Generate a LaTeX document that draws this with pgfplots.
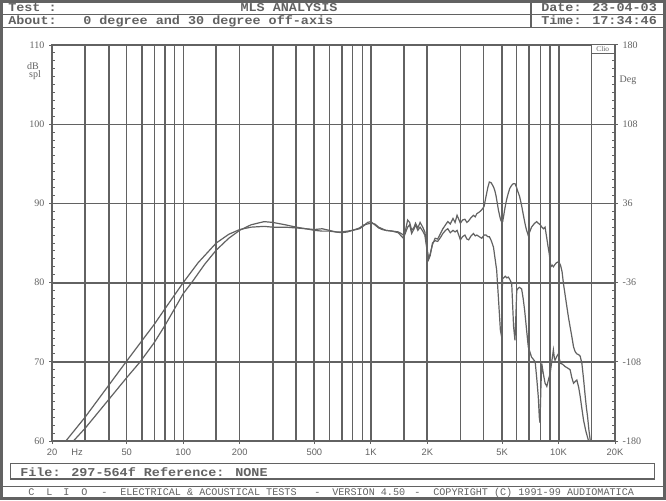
\documentclass[border=0pt]{standalone}
\usepackage{fontspec}
\setmainfont{Liberation Sans}
\newfontfamily\mono{Liberation Mono}
\newfontfamily\monob[FakeStretch=1.12]{Liberation Mono}
\newfontfamily\serf{Liberation Serif}
\usepackage{pgfplots}
\pgfplotsset{compat=1.18}
\definecolor{gc}{RGB}{98,98,98}

\pgfplotstableread{
f db
20 57.6
23.7 60
30 63.0
40 67.0
50 70.1
60 72.6
70 74.7
80 76.7
100 80.0
120 82.5
150 85.0
175 86.1
200 86.7
230 87.0
270 87.1
300 87.0
350 87.0
400 86.9
450 86.8
500 86.7
550 86.8
600 86.6
650 86.4
700 86.3
750 86.4
800 86.6
870 86.8
920 87.2
960 87.6
1000 87.7
1050 87.3
1100 86.9
1150 86.7
1200 86.6
1300 86.5
1400 86.4
1450 86.2
1490 86.0
1530 86.6
1570 87.9
1610 87.6
1650 86.6
1700 87.0
1730 87.5
1780 86.9
1830 87.6
1890 87.0
1940 86.4
1990 84.5
2030 83.0
2070 83.6
2130 84.8
2200 85.6
2270 85.5
2350 86.2
2420 86.8
2500 87.3
2570 87.7
2650 87.4
2740 88.1
2810 87.6
2880 88.5
2940 88.0
3000 87.5
3080 87.9
3170 88.0
3250 87.6
3320 87.8
3420 88.2
3520 88.5
3600 88.3
3670 88.7
3780 88.9
3900 89.2
4010 89.6
4110 90.9
4200 92.0
4280 92.7
4380 92.6
4500 92.1
4580 91.6
4650 90.9
4720 90.0
4780 89.2
4850 88.5
4920 87.9
5000 87.6
5040 87.7
5100 88.4
5180 89.4
5280 90.4
5400 91.3
5500 91.9
5630 92.3
5750 92.5
5860 92.5
5960 92.1
6050 91.6
6200 90.9
6350 89.8
6500 88.5
6650 87.3
6760 86.6
6890 86.0
7050 86.5
7180 87.0
7400 87.4
7640 87.7
7800 87.5
7990 87.3
8150 87.0
8310 86.8
8480 87.0
8660 85.6
8800 84.5
8930 83.6
9100 82.0
9250 82.2
9390 82.0
9580 82.3
9750 82.5
9920 82.6
10100 82.5
10250 82.2
10440 81.4
10620 79.9
10850 78.4
11070 77.0
11300 75.6
11530 74.4
11770 73.2
12020 71.9
12250 71.3
12520 71.0
12800 70.9
13050 70.7
13320 69.8
13600 67.8
13880 65.6
14080 64.2
14280 63.1
14500 61.5
14770 60.0
15000 58.5
}\onaxis

\pgfplotstableread{
f db
20 55.6
26 60
30 61.6
40 65.2
50 68.0
59 70.0
70 72.4
80 74.6
90 76.7
100 78.6
111 80.0
130 82.3
150 84.1
175 85.6
200 86.6
230 87.3
270 87.7
300 87.6
350 87.3
400 87.0
450 86.8
500 86.6
550 86.5
600 86.5
650 86.4
700 86.4
750 86.5
800 86.6
870 86.9
920 87.3
960 87.4
1000 87.5
1050 87.4
1100 87.0
1150 86.8
1200 86.6
1300 86.5
1400 86.3
1450 85.9
1490 85.6
1530 86.3
1570 87.0
1610 87.3
1650 86.2
1700 86.8
1730 87.3
1780 86.6
1830 87.0
1890 86.5
1940 86.0
1990 84.2
2030 82.9
2070 83.4
2130 85.0
2200 85.3
2270 85.2
2350 85.7
2420 86.2
2500 86.6
2570 86.8
2650 86.3
2740 86.6
2810 86.4
2880 86.6
2940 86.0
3000 85.4
3080 85.8
3170 86.0
3250 85.5
3320 85.4
3420 85.9
3520 86.2
3600 85.9
3670 86.0
3780 85.8
3900 85.6
4010 86.0
4110 86.0
4200 85.8
4280 85.8
4380 85.3
4500 84.5
4580 83.2
4680 81.6
4780 78.2
4900 74.0
4970 73.2
5030 80.5
5100 80.6
5200 80.8
5300 80.6
5400 80.7
5500 80.4
5630 79.9
5700 77.0
5760 74.5
5860 72.7
5930 76.0
5990 79.0
6100 79.3
6200 79.4
6360 79.2
6480 78.0
6600 76.5
6760 74.0
6900 71.9
7050 71.2
7180 70.6
7350 70.3
7510 70.0
7650 68.0
7800 65.6
7900 63.0
7970 62.3
8050 66.5
8140 69.8
8300 68.5
8480 67.3
8660 66.9
8850 67.8
9020 68.5
9200 70.0
9390 71.5
9500 70.5
9580 70.2
9800 70.7
9980 71.0
10100 70.4
10250 69.8
10500 69.7
10840 69.4
11200 69.2
11530 69.0
11770 68.0
12020 67.3
12250 67.5
12520 67.7
12800 66.8
13050 65.6
13300 64.2
13600 62.6
14000 61.2
14460 60.0
15000 58.0
}\offaxis

\begin{document}
\begin{tikzpicture}[x=0.75pt,y=0.75pt]
\path[use as bounding box] (0,0) rectangle (666,500);
\fill[white] (0,0) rectangle (666,500);

% header
\draw[gc, line width=0.75pt] (0,485.5) -- (666,485.5);
\draw[gc, line width=1.1pt] (0,472.7) -- (666,472.7);
\draw[gc, line width=0.9pt] (531,500) -- (531,472.7);
\begin{scope}[every node/.style={inner sep=0pt, text=gc, font=\monob\bfseries\fontsize{9}{11}\selectfont}]
\node[anchor=base west] at (8,488.2) {Test :};
\node[anchor=base] at (289,488.2) {MLS ANALYSIS};
\node[anchor=base west] at (541,488.2) {Date: 23-04-03};
\node[anchor=base west] at (8,475) {About:};
\node[anchor=base west] at (83,475) {0 degree and 30 degree off-axis};
\node[anchor=base west] at (541,475) {Time: 17:34:46};
\node[anchor=base west] at (20,24) {File: 297-564f Reference: NONE};
\end{scope}

% file box and footer
\draw[gc, line width=1.1pt] (10.5,21) rectangle (654.5,36.7);
\draw[gc, line width=1.1pt] (0,13.7) -- (666,13.7);
\begin{scope}[every node/.style={inner sep=0pt, text=gc, font=\mono\fontsize{7.6}{9}\selectfont, anchor=base west}]
\node at (28,5) {C};
\node at (46,5) {L};
\node at (63,5) {I};
\node at (81,5) {O};
\node at (101,5) {-};
\node at (120,5) {ELECTRICAL \& ACOUSTICAL TESTS};
\node at (314,5) {-};
\node at (332,5) {VERSION 4.50};
\node at (414,5) {-};
\node at (433,5) {COPYRIGHT (C) 1991-99 AUDIOMATICA};
\end{scope}

% outer border
\draw[gc, line width=2.25pt] (1.5,1.5) rectangle (664.5,498.5);

\begin{axis}[
  at={(39pt,44.25pt)}, anchor=south west,
  width=422.25pt, height=297pt, scale only axis,
  xmode=log, xmin=20, xmax=20000, ymin=60, ymax=110,
  axis line style={gc, line width=0.9pt},
  tick style={gc, line width=0.75pt},
  tick align=outside,
  major tick length=2.25pt, minor tick length=-2pt,
  xtick pos=left, ytick pos=left,
  xtick={20,50,100,200,500,1000,2000,5000,10000,20000},
  xticklabels={20,50,100,200,500,1K,2K,5K,10K,20K},
  minor xtick={50,70,90,100,200,600,800,900,3000,4000,6000,8000,15000},
  xminorgrids,
  minor grid style={gc, line width=0.75pt},
  extra x ticks={30,40,60,80,150,300,400,500,700,1000,1500,2000,5000,7000,9000,10000},
  extra x tick labels={},
  extra x tick style={grid=major, major grid style={gc, line width=1.5pt}, major tick length=0pt},
  ytick={60,70,80,90,100,110},
  minor y tick num=9,
  ymajorgrids,
  major grid style={gc, line width=0.75pt},
  extra y ticks={70,80},
  extra y tick labels={},
  extra y tick style={grid=major, major grid style={gc, line width=1.5pt}, major tick length=0pt},
  /pgf/number format/assume math mode=true,
  xticklabel style={font=\fontsize{7}{8}\selectfont, text=gc},
  yticklabel style={font=\serf\fontsize{7.5}{8}\selectfont, text=gc},
  clip=true,
]
\addplot[gc, line width=0.9pt] table[x=f, y=db] {\onaxis};
\addplot[gc, line width=0.9pt] table[x=f, y=db] {\offaxis};
\end{axis}

\begin{axis}[
  at={(39pt,44.25pt)}, anchor=south west,
  width=422.25pt, height=297pt, scale only axis,
  xmode=log, xmin=20, xmax=20000, ymin=-180, ymax=180,
  hide x axis,
  axis y line*=right,
  axis line style={gc, line width=0.75pt},
  tick style={gc, line width=0.75pt},
  tick align=outside,
  major tick length=2.25pt, minor tick length=-2pt,
  ytick={-180,-108,-36,36,108,180},
  minor y tick num=9,
  /pgf/number format/assume math mode=true,
  yticklabel style={font=\serf\fontsize{7.5}{8}\selectfont, text=gc},
]
\end{axis}

% labels outside axes
\begin{scope}[every node/.style={inner sep=0pt, text=gc, font=\serf\fontsize{7.5}{8}\selectfont}]
\node at (33,434) {dB};
\node at (35,425) {spl};
\node at (628,420) {Deg};
\node[font=\fontsize{7}{8}\selectfont] at (77,48) {Hz};
\end{scope}
\draw[gc, line width=0.75pt, fill=white] (591.5,446.5) rectangle (614,455);
\node[inner sep=0pt, text=gc, font=\serf\fontsize{5.5}{6}\selectfont] at (602.7,450.8) {Clio};
\end{tikzpicture}
\end{document}
